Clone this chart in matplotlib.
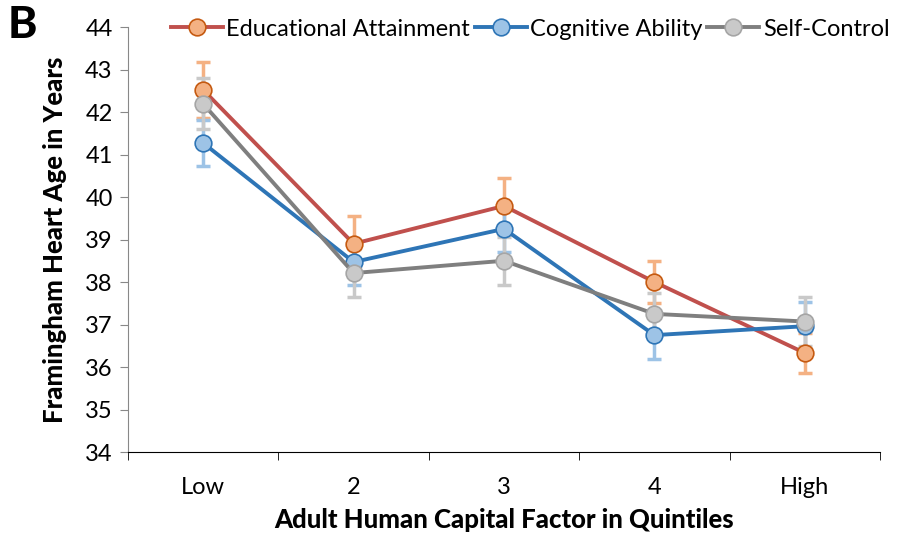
import numpy as np
import matplotlib.pyplot as plt

plt.rcParams['font.family'] = ['Lato', 'DejaVu Sans']

quintiles = ['Low', '2', '3', '4', 'High']

edu = [42.52, 38.9, 39.79, 38.0, 36.33]
edu_err = [0.66, 0.65, 0.66, 0.49, 0.47]

cog = [41.27, 38.47, 39.25, 36.75, 36.96]
cog_err = [0.55, 0.54, 0.55, 0.55, 0.58]

selfc = [42.19, 38.21, 38.5, 37.25, 37.07]
selfc_err = [0.6, 0.56, 0.56, 0.5, 0.58]

series = [
    ('Educational Attainment', edu, edu_err, '#C0504D', '#F4B183', '#C55A11'),
    ('Cognitive Ability', cog, cog_err, '#2E75B6', '#9DC3E6', '#2E75B6'),
    ('Self-Control', selfc, selfc_err, '#7F7F7F', '#C9C9C9', '#A5A5A5'),
]

fig = plt.figure(figsize=(9.03, 5.39), dpi=100)
ax = fig.add_axes([128 / 903, 1 - 452 / 539, (880 - 128) / 903, (452 - 27) / 539])

x = np.arange(len(quintiles))
for name, vals, err, lc, fc, ec in series:
    ax.errorbar(x, vals, yerr=err, fmt='none', ecolor=fc, elinewidth=2.5,
                capsize=5, capthick=2.5, zorder=2)
for name, vals, err, lc, fc, ec in series:
    ax.plot(x, vals, color=lc, lw=2.8, marker='o', ms=12, mfc=fc, mec=ec,
            mew=1.2, label=name, zorder=3)

ax.set_xlim(-0.5, 4.5)
ax.set_ylim(34, 44)
ax.set_yticks(range(34, 45))
ax.tick_params(axis='y', labelsize=17, length=6, color='#888888', pad=5)
ax.set_xticks(x)
ax.set_xticklabels(quintiles)
ax.set_xticks(np.arange(-0.5, 5, 1), minor=True)
ax.tick_params(axis='x', which='major', length=0, labelsize=17, pad=18)
ax.tick_params(axis='x', which='minor', length=6, color='black')

for s in ['top', 'right']:
    ax.spines[s].set_visible(False)
ax.spines['left'].set_color('#888888')
ax.spines['bottom'].set_color('black')

ax.set_xlabel('Adult Human Capital Factor in Quintiles', fontsize=18.5,
              fontweight='black', labelpad=7)
ax.set_ylabel('Framingham Heart Age in Years', fontsize=18.5,
              fontweight='black', labelpad=13)

ax.legend(loc='center right', bbox_to_anchor=(1.025, 0.995), ncol=3, frameon=False,
          fontsize=17, handlelength=2.2, handletextpad=0.15, columnspacing=0.2,
          borderaxespad=0)

fig.text(0.008, 0.99, 'B', fontsize=32, fontweight='black', va='top', ha='left')

fig.savefig('out.png', dpi=100)
